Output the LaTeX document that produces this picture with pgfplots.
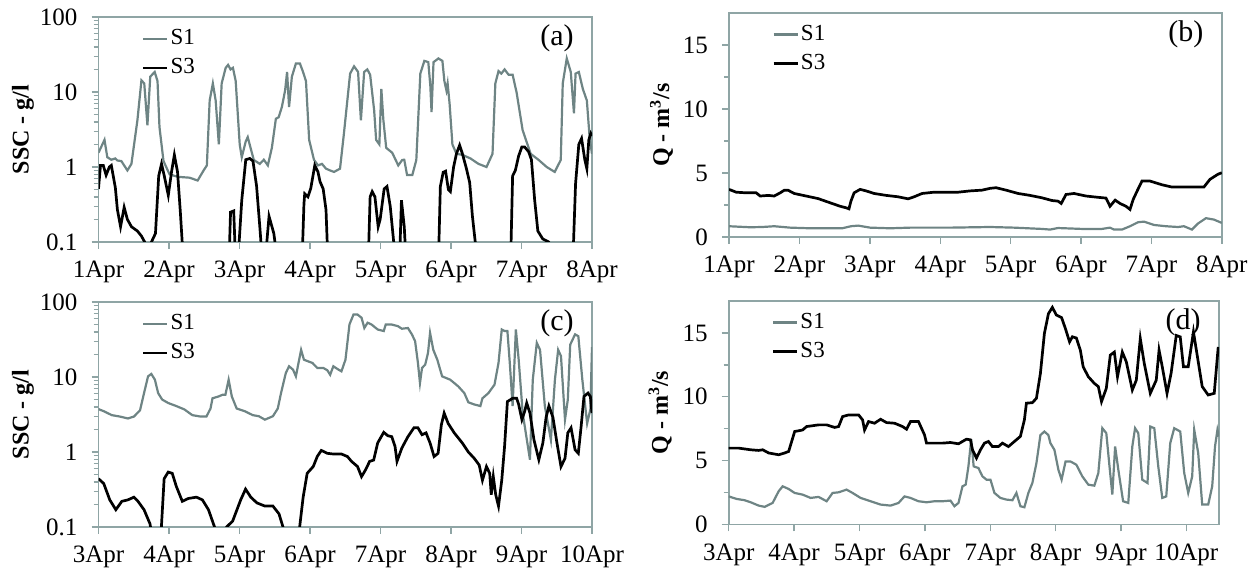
\documentclass[border=0pt]{standalone}
\usepackage{fontspec}
\setmainfont{Liberation Serif}
\usepackage{pgfplots}
\pgfplotsset{compat=1.18}
\definecolor{axcol}{HTML}{8FA5A5}
\definecolor{sone}{HTML}{6E8484}
\pgfplotsset{
  mypanel/.style={
    scale only axis,
    axis line style={axcol, line width=0.8pt},
    tick style={axcol, line width=0.7pt},
    tick align=outside, tick pos=left,
    major tick length=3.5pt, minor tick length=2.5pt,
    xmin=0, xmax=7, xtick={0,...,7},
    tick label style={font=\fontsize{12.5}{12.5}\selectfont},
    yticklabel style={xshift=-3.5pt},
    xticklabel style={yshift=-2.5pt},
    ylabel style={font=\fontsize{12}{12}\selectfont\bfseries, anchor=center},
    legend style={draw=none, fill=none, at={(0.087,0.955)}, anchor=north west,
      font=\fontsize{11.5}{12}\selectfont, row sep=3.5pt, inner sep=0pt,
      nodes={inner sep=1pt}, cells={anchor=west}},
    legend image code/.code={\draw[##1] (0pt,0pt) -- (12pt,0pt);},
  },
  s1line/.style={sone, line width=1.1pt},
  s3line/.style={black, line width=1.35pt},
}
\newcommand{\plab}[1]{\node[anchor=east, font=\fontsize{15}{15}\selectfont] at (rel axis cs:0.977,0.905) {#1};}

\begin{document}
\begin{tikzpicture}
\path[use as bounding box] (0,0) rectangle (628pt,285.5pt);

% (a) SSC, 1-8 April
\begin{axis}[mypanel, at={(49.25pt,164.5pt)}, anchor=south west,
  width=246.75pt, height=112.5pt,
  ymode=log, ymin=0.1, ymax=100,
  ytick={0.1,1,10,100}, yticklabels={0.1,1,10,100},
  minor ytick={0.2,0.3,0.4,0.5,0.6,0.7,0.8,0.9,2,3,4,5,6,7,8,9,20,30,40,50,60,70,80,90},
  ylabel={SSC - g/l}, ylabel style={at={(rel axis cs:-0.153,0.5)}},
  xticklabels={1Apr,2Apr,3Apr,4Apr,5Apr,6Apr,7Apr,8Apr}]
\addplot[s1line] coordinates {(0,1.55)(0.085,2.3)(0.125,1.35)(0.182,1.25)(0.239,1.3)(0.268,1.22)(0.324,1.2)(0.41,0.9)(0.467,1.1)(0.552,4.2)(0.609,14.3)(0.649,13)(0.694,3.6)(0.734,16)(0.797,18.5)(0.837,14)(0.865,3.4)(0.922,1.2)(1.007,0.8)(1.121,0.74)(1.292,0.72)(1.406,0.66)(1.491,0.9)(1.537,1.05)(1.577,7.7)(1.622,13)(1.662,7.7)(1.707,2.0)(1.747,13)(1.804,21)(1.838,23)(1.873,20)(1.907,21)(1.946,14)(2.003,2.0)(2.032,1.35)(2.089,2.2)(2.117,2.5)(2.157,1.8)(2.203,1.24)(2.288,1.1)(2.345,1.25)(2.402,1.05)(2.459,1.8)(2.516,4.4)(2.555,4.6)(2.601,6.3)(2.647,10.5)(2.675,18.5)(2.703,6.3)(2.743,16)(2.8,24)(2.857,24)(2.897,19)(2.943,14)(2.988,2.3)(3.056,1.25)(3.113,1.05)(3.17,1.1)(3.227,0.95)(3.284,0.9)(3.341,0.86)(3.426,0.95)(3.483,2.9)(3.569,17.6)(3.625,22)(3.682,18.5)(3.722,4.2)(3.768,18.5)(3.813,20)(3.853,17)(3.91,5.7)(3.938,2.3)(3.984,2.0)(4.012,11)(4.041,4.2)(4.081,1.8)(4.166,1.55)(4.252,1.05)(4.308,1.24)(4.337,1.25)(4.377,0.78)(4.451,0.78)(4.508,1.24)(4.565,17.6)(4.622,26)(4.678,25)(4.707,12)(4.724,5.4)(4.752,25)(4.821,28)(4.878,26)(4.906,14)(4.935,10.5)(4.952,13)(4.98,7)(5.02,2.0)(5.077,1.5)(5.162,1.45)(5.276,1.3)(5.39,1.1)(5.504,1.0)(5.589,1.5)(5.629,13)(5.674,19)(5.714,17.6)(5.76,20)(5.817,17)(5.874,17)(5.931,9.8)(6.016,3.1)(6.13,1.5)(6.244,1.24)(6.357,1.0)(6.471,0.86)(6.557,1.24)(6.585,13)(6.642,28)(6.699,18.5)(6.744,5.2)(6.767,17.6)(6.813,18.5)(6.87,11)(6.927,7.7)(6.966,2.5)(7.0,1.5)};
\addlegendentry{S1}
\addplot[s3line] coordinates {(0,0.51)(0.028,1.05)(0.068,1.05)(0.108,0.78)(0.154,1.0)(0.182,1.05)(0.239,0.53)(0.268,0.27)(0.313,0.16)(0.364,0.29)(0.41,0.2)(0.467,0.16)(0.552,0.14)(0.609,0.12)(0.655,0.1)(0.694,0.05)(0.751,0.1)(0.808,0.13)(0.854,0.76)(0.894,1.1)(0.933,0.76)(0.99,0.42)(1.036,0.86)(1.076,1.45)(1.121,0.86)(1.161,0.25)(1.207,0.05)(1.85,0.05)(1.873,0.25)(1.918,0.26)(1.946,0.05)(1.975,0.05)(2.032,0.36)(2.089,1.25)(2.146,1.3)(2.191,1.2)(2.242,0.56)(2.288,0.16)(2.328,0.05)(2.36,0.05)(2.419,0.22)(2.487,0.13)(2.544,0.05)(2.886,0.05)(2.914,0.32)(2.925,0.44)(2.971,0.4)(3.011,0.52)(3.068,1.05)(3.113,0.86)(3.142,0.64)(3.187,0.51)(3.227,0.27)(3.256,0.05)(3.825,0.05)(3.853,0.4)(3.882,0.47)(3.921,0.4)(3.967,0.16)(3.995,0.2)(4.052,0.51)(4.092,0.55)(4.138,0.3)(4.183,0.11)(4.223,0.05)(4.269,0.05)(4.297,0.36)(4.337,0.16)(4.365,0.05)(4.821,0.05)(4.849,0.55)(4.889,0.85)(4.923,0.88)(4.963,0.5)(4.991,0.47)(5.037,1.0)(5.077,1.5)(5.122,1.95)(5.162,1.5)(5.219,0.95)(5.265,0.62)(5.304,0.22)(5.344,0.1)(5.378,0.05)(5.845,0.05)(5.874,0.76)(5.913,0.9)(5.959,1.4)(6.005,1.85)(6.044,1.85)(6.101,1.6)(6.141,1.25)(6.187,0.36)(6.232,0.14)(6.301,0.11)(6.386,0.1)(6.443,0.05)(6.727,0.05)(6.767,0.6)(6.813,2.0)(6.852,2.4)(6.898,1.25)(6.927,0.95)(6.955,2.3)(6.983,2.8)(7.0,2.6)};
\addlegendentry{S3}
\plab{(a)}
\end{axis}

% (b) Q, 1-8 April
\begin{axis}[mypanel, at={(364.5pt,167pt)}, anchor=south west,
  width=246.4pt, height=112pt,
  ymin=0, ymax=17.5, ytick={0,5,10,15}, yticklabels={0,5,10,15},
  minor ytick={2.5,7.5,12.5},
  ylabel={Q - m\textsuperscript{3}/s}, ylabel style={at={(rel axis cs:-0.137,0.5)}},
  xticklabels={1Apr,2Apr,3Apr,4Apr,5Apr,6Apr,7Apr,8Apr}]
\addplot[s1line] coordinates {(0,0.84)(0.301,0.76)(0.471,0.78)(0.642,0.84)(0.869,0.73)(1.153,0.68)(1.437,0.68)(1.607,0.68)(1.732,0.84)(1.834,0.89)(2.005,0.73)(2.288,0.68)(2.572,0.73)(3.14,0.73)(3.708,0.78)(4.049,0.73)(4.446,0.63)(4.56,0.58)(4.673,0.7)(5.014,0.63)(5.298,0.63)(5.412,0.73)(5.468,0.58)(5.582,0.58)(5.696,0.84)(5.809,1.15)(5.894,1.2)(6.036,0.94)(6.207,0.84)(6.377,0.78)(6.462,0.84)(6.576,0.58)(6.661,1.05)(6.775,1.47)(6.888,1.36)(7.0,1.1)};
\addlegendentry{S1}
\addplot[s3line] coordinates {(0,3.72)(0.102,3.5)(0.244,3.45)(0.386,3.45)(0.443,3.2)(0.557,3.25)(0.642,3.2)(0.727,3.45)(0.784,3.65)(0.84,3.65)(0.926,3.4)(1.096,3.2)(1.266,3.0)(1.437,2.67)(1.579,2.4)(1.664,2.28)(1.704,2.2)(1.732,2.8)(1.777,3.45)(1.863,3.72)(1.948,3.6)(2.061,3.4)(2.232,3.25)(2.402,3.14)(2.544,2.98)(2.629,3.14)(2.743,3.4)(2.913,3.5)(3.083,3.5)(3.254,3.5)(3.424,3.6)(3.595,3.66)(3.708,3.8)(3.793,3.85)(3.935,3.66)(4.106,3.4)(4.276,3.25)(4.446,3.06)(4.588,2.85)(4.673,2.8)(4.719,2.62)(4.787,3.32)(4.901,3.4)(5.071,3.2)(5.241,3.1)(5.355,3.04)(5.412,2.4)(5.485,2.88)(5.554,2.62)(5.639,2.4)(5.696,2.15)(5.741,2.93)(5.798,3.6)(5.866,4.37)(5.98,4.37)(6.15,4.08)(6.292,3.9)(6.491,3.9)(6.746,3.9)(6.831,4.5)(6.945,4.9)(7.0,5.02)};
\addlegendentry{S3}
\plab{(b)}
\end{axis}

% (c) SSC, 3-10 April
\begin{axis}[mypanel, at={(49.25pt,22pt)}, anchor=south west,
  width=246.75pt, height=112.5pt,
  ymode=log, ymin=0.1, ymax=100,
  ytick={0.1,1,10,100}, yticklabels={0.1,1,10,100},
  minor ytick={0.2,0.3,0.4,0.5,0.6,0.7,0.8,0.9,2,3,4,5,6,7,8,9,20,30,40,50,60,70,80,90},
  ylabel={SSC - g/l}, ylabel style={at={(rel axis cs:-0.153,0.5)}},
  xticklabels={3Apr,4Apr,5Apr,6Apr,7Apr,8Apr,9Apr,10Apr}]
\addplot[s1line] coordinates {(0,3.73)(0.074,3.5)(0.189,3.1)(0.303,2.97)(0.417,2.8)(0.503,2.97)(0.589,3.6)(0.646,6.1)(0.703,10.2)(0.749,11)(0.8,9.2)(0.846,6.1)(0.903,5.0)(0.989,4.5)(1.103,4.1)(1.217,3.7)(1.331,3.1)(1.446,2.97)(1.531,2.97)(1.589,3.8)(1.617,5.2)(1.703,5.5)(1.76,5.8)(1.8,5.8)(1.846,9.2)(1.891,5.5)(1.96,3.8)(2.074,3.5)(2.189,3.1)(2.274,3.0)(2.36,2.7)(2.474,3.0)(2.543,3.8)(2.589,6.1)(2.657,11.3)(2.703,13.9)(2.76,12.5)(2.8,10.2)(2.846,17)(2.874,23)(2.914,17)(2.971,16.2)(3.034,15.4)(3.103,13.2)(3.189,13.2)(3.246,12.3)(3.286,10.7)(3.331,13.9)(3.406,12.5)(3.446,11.9)(3.503,17)(3.56,50.3)(3.617,68)(3.674,68)(3.731,61.7)(3.771,45)(3.817,53)(3.874,50)(3.96,43)(4.046,41)(4.074,50)(4.16,50)(4.246,47.7)(4.303,44)(4.389,45)(4.446,36.9)(4.491,30)(4.531,15.4)(4.56,8.3)(4.589,13.2)(4.634,14.6)(4.674,21)(4.703,38.8)(4.749,23)(4.806,17)(4.874,10.2)(4.989,9.2)(5.103,7.5)(5.189,6.1)(5.246,4.6)(5.331,4.3)(5.417,4.1)(5.446,5.2)(5.531,6.1)(5.617,7.9)(5.674,15.4)(5.72,43)(5.76,41)(5.8,41)(5.834,15.4)(5.874,4.1)(5.92,43)(5.96,17)(6.017,3.3)(6.12,0.79)(6.16,9.2)(6.217,28.5)(6.263,23)(6.331,4.1)(6.417,1.45)(6.474,9.2)(6.52,23)(6.56,19)(6.617,2.7)(6.657,5.0)(6.691,27)(6.76,37)(6.806,35)(6.863,9.2)(6.931,2.4)(6.977,3.7)(7.0,25)};
\addlegendentry{S1}
\addplot[s3line] coordinates {(0,0.44)(0.074,0.38)(0.16,0.23)(0.246,0.17)(0.331,0.22)(0.417,0.23)(0.503,0.25)(0.56,0.22)(0.646,0.17)(0.731,0.11)(0.789,0.05)(0.874,0.05)(0.931,0.44)(0.989,0.54)(1.046,0.52)(1.103,0.35)(1.189,0.22)(1.274,0.24)(1.389,0.25)(1.474,0.23)(1.56,0.17)(1.646,0.1)(1.703,0.05)(1.817,0.1)(1.903,0.12)(2.017,0.23)(2.086,0.32)(2.16,0.25)(2.246,0.21)(2.36,0.19)(2.474,0.19)(2.56,0.15)(2.617,0.1)(2.657,0.05)(2.817,0.05)(2.863,0.12)(2.903,0.25)(2.96,0.52)(3.046,0.64)(3.103,0.87)(3.16,1.05)(3.246,0.96)(3.331,0.94)(3.446,0.94)(3.531,0.87)(3.589,0.75)(3.674,0.64)(3.731,0.47)(3.789,0.58)(3.846,0.75)(3.903,0.78)(3.96,1.32)(4.046,1.83)(4.103,1.65)(4.16,1.6)(4.206,1.19)(4.234,0.75)(4.303,1.13)(4.389,1.6)(4.474,2.1)(4.531,2.1)(4.589,1.7)(4.646,1.8)(4.703,1.32)(4.76,0.87)(4.817,0.96)(4.863,2.3)(4.903,3.3)(4.96,2.4)(5.046,1.8)(5.16,1.32)(5.246,1.0)(5.331,0.82)(5.4,0.67)(5.446,0.42)(5.503,0.64)(5.549,0.52)(5.571,0.27)(5.6,0.47)(5.634,0.27)(5.674,0.19)(5.72,0.42)(5.76,1.19)(5.8,4.7)(5.874,5.2)(5.931,5.2)(5.96,4.3)(6.006,2.7)(6.046,3.5)(6.074,4.5)(6.12,3.3)(6.177,1.45)(6.246,0.79)(6.303,1.32)(6.349,2.9)(6.389,4.1)(6.446,2.9)(6.503,1.32)(6.56,0.64)(6.617,0.82)(6.657,1.8)(6.703,2.1)(6.76,1.07)(6.806,0.96)(6.846,2.2)(6.886,5.5)(6.943,6.1)(6.977,5.5)(7.0,3.3)};
\addlegendentry{S3}
\plab{(c)}
\end{axis}

% (d) Q, 3-10.5 April
\begin{axis}[mypanel, at={(364.35pt,23.25pt)}, anchor=south west,
  width=245.15pt, height=111.75pt, xmax=7.5,
  ymin=0, ymax=17.5, ytick={0,5,10,15}, yticklabels={0,5,10,15},
  minor ytick={2.5,7.5,12.5},
  ylabel={Q - m\textsuperscript{3}/s}, ylabel style={at={(rel axis cs:-0.14,0.5)}},
  xticklabels={3Apr,4Apr,5Apr,6Apr,7Apr,8Apr,9Apr,10Apr}]
\addplot[s1line] coordinates {(0,2.2)(0.122,2.0)(0.244,1.9)(0.336,1.74)(0.458,1.48)(0.55,1.38)(0.672,1.69)(0.764,2.6)(0.825,2.99)(0.917,2.78)(1.009,2.47)(1.13,2.34)(1.253,2.08)(1.375,2.16)(1.498,1.82)(1.589,2.47)(1.681,2.52)(1.803,2.73)(1.895,2.47)(2.017,2.08)(2.17,1.82)(2.323,1.56)(2.476,1.48)(2.598,1.69)(2.689,2.2)(2.781,2.08)(2.903,1.82)(3.026,1.74)(3.148,1.82)(3.27,1.82)(3.392,1.87)(3.453,1.43)(3.515,1.69)(3.576,2.99)(3.625,3.12)(3.667,4.55)(3.71,6.68)(3.747,4.55)(3.82,4.42)(3.881,3.77)(3.943,3.51)(4.004,3.51)(4.065,2.47)(4.156,2.08)(4.248,1.95)(4.34,1.9)(4.401,2.47)(4.462,1.43)(4.523,1.35)(4.584,2.47)(4.645,3.25)(4.707,4.8)(4.768,7.0)(4.829,7.28)(4.89,7.0)(4.921,6.37)(4.982,5.85)(5.043,4.29)(5.092,3.51)(5.153,4.94)(5.226,4.94)(5.318,4.68)(5.409,3.77)(5.501,3.12)(5.593,3.04)(5.654,4.03)(5.715,7.54)(5.776,7.15)(5.825,4.55)(5.868,2.34)(5.911,6.11)(5.96,4.29)(6.033,1.82)(6.112,1.69)(6.174,6.11)(6.216,7.54)(6.265,7.15)(6.326,3.51)(6.406,3.25)(6.449,7.67)(6.51,7.54)(6.571,4.55)(6.632,2.08)(6.693,2.2)(6.754,6.37)(6.815,7.54)(6.907,7.28)(6.968,4.03)(7.029,2.47)(7.09,3.77)(7.121,7.41)(7.182,5.59)(7.243,1.56)(7.335,1.56)(7.396,2.99)(7.439,6.11)(7.476,7.41)(7.5,6.89)};
\addlegendentry{S1}
\addplot[s3line] coordinates {(0,5.98)(0.153,5.98)(0.336,5.85)(0.458,5.8)(0.52,5.85)(0.611,5.6)(0.764,5.46)(0.856,5.6)(0.917,5.72)(1.009,7.28)(1.13,7.4)(1.192,7.67)(1.375,7.8)(1.498,7.8)(1.62,7.6)(1.681,7.67)(1.742,8.45)(1.834,8.58)(1.987,8.58)(2.048,8.19)(2.078,7.4)(2.139,8.06)(2.231,7.93)(2.323,8.24)(2.414,7.98)(2.537,7.93)(2.659,7.67)(2.72,7.46)(2.781,8.06)(2.903,8.06)(2.995,7.02)(3.026,6.37)(3.148,6.37)(3.27,6.37)(3.392,6.42)(3.515,6.32)(3.637,6.68)(3.698,6.63)(3.729,5.85)(3.79,5.2)(3.851,5.85)(3.912,6.37)(3.973,6.5)(4.034,6.1)(4.126,6.1)(4.187,6.37)(4.279,6.1)(4.37,6.5)(4.462,6.9)(4.523,8.19)(4.554,9.5)(4.645,9.54)(4.707,9.88)(4.768,11.83)(4.829,14.95)(4.89,16.5)(4.951,17.0)(5.012,16.4)(5.092,16.2)(5.153,15.3)(5.214,14.3)(5.257,14.7)(5.318,14.6)(5.379,13.65)(5.422,12.35)(5.501,11.57)(5.593,11.05)(5.654,10.8)(5.703,9.62)(5.776,10.66)(5.837,13.26)(5.899,13.5)(5.947,11.57)(6.021,13.5)(6.082,12.74)(6.174,10.53)(6.235,11.3)(6.296,14.56)(6.357,12.6)(6.449,10.27)(6.54,11.3)(6.583,13.65)(6.632,12.35)(6.705,10.27)(6.767,11.83)(6.846,14.8)(6.907,14.69)(6.956,12.35)(7.029,12.35)(7.109,15.08)(7.17,13.13)(7.243,10.8)(7.335,10.14)(7.427,10.27)(7.488,13.9)};
\addlegendentry{S3}
\plab{(d)}
\end{axis}
\end{tikzpicture}
\end{document}
